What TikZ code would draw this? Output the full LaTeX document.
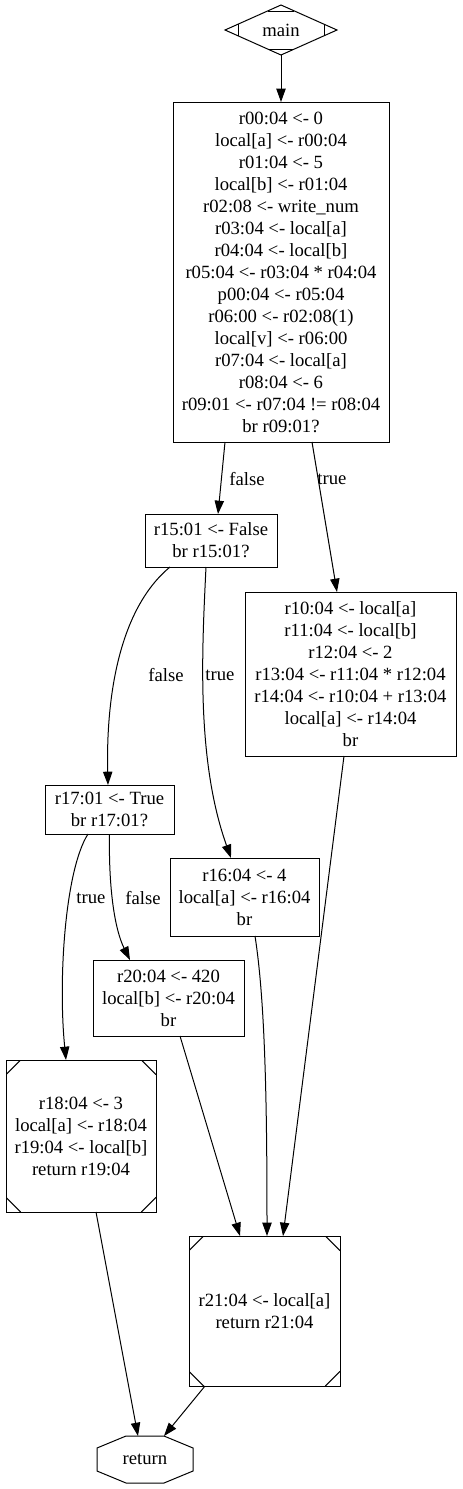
\documentclass[tikz,border=0pt]{standalone}
\usepackage{fontspec}
\setmainfont{Liberation Serif}
\usetikzlibrary{shapes.geometric,arrows.meta,calc}
\begin{document}
\begin{tikzpicture}[x=0.75pt,y=-0.75pt,
 every node/.style={font=\fontsize{14}{16.5}\selectfont, align=center, inner sep=0pt, outer sep=0pt},
 blk/.style={draw, line width=0.75pt, rectangle},
 msq/.style={blk, path picture={
   \draw[line width=0.75pt] ([yshift=-11pt]path picture bounding box.north west) -- ([xshift=11pt]path picture bounding box.north west);
   \draw[line width=0.75pt] ([yshift=-11pt]path picture bounding box.north east) -- ([xshift=-11pt]path picture bounding box.north east);
   \draw[line width=0.75pt] ([yshift=11pt]path picture bounding box.south west) -- ([xshift=11pt]path picture bounding box.south west);
   \draw[line width=0.75pt] ([yshift=11pt]path picture bounding box.south east) -- ([xshift=-11pt]path picture bounding box.south east);
 }},
 cnx/.style={line width=0.75pt, -{Triangle[length=10pt,width=7pt]}},
 thin/.style={line width=0.75pt}
]
\useasboundingbox (0,0) rectangle (462,1489);

% nodes
\node[draw, thin, diamond, aspect=2.24, minimum width=84pt, minimum height=37.5pt] (main) at (281,30) {main};
\draw[thin] ($(main.north)+(-13.4,6)$) -- ($(main.north)+(13.4,6)$);
\draw[thin] ($(main.south)+(-13.4,-6)$) -- ($(main.south)+(13.4,-6)$);
\draw[thin] ($(main.west)+(13,-5.8)$) -- ($(main.west)+(13,5.8)$);
\draw[thin] ($(main.east)+(-13,-5.8)$) -- ($(main.east)+(-13,5.8)$);

\node[blk, minimum width=162pt, minimum height=255pt] (mb) at (281,272) {r00:04 <- 0\\local[a] <- r00:04\\r01:04 <- 5\\local[b] <- r01:04\\r02:08 <- write\_num\\r03:04 <- local[a]\\r04:04 <- local[b]\\r05:04 <- r03:04 * r04:04\\p00:04 <- r05:04\\r06:00 <- r02:08(1)\\local[v] <- r06:00\\r07:04 <- local[a]\\r08:04 <- 6\\r09:01 <- r07:04 != r08:04\\br r09:01?};

\node[blk, minimum width=99pt, minimum height=39.75pt] (r15) at (211,540.5) {r15:01 <- False\\br r15:01?};

\node[blk, minimum width=158.25pt, minimum height=123pt] (r10) at (350.5,674) {r10:04 <- local[a]\\r11:04 <- local[b]\\r12:04 <- 2\\r13:04 <- r11:04 * r12:04\\r14:04 <- r10:04 + r13:04\\local[a] <- r14:04\\br};

\node[blk, minimum width=96.75pt, minimum height=36.75pt] (r17) at (109.5,809.5) {r17:01 <- True\\br r17:01?};

\node[blk, minimum width=111.75pt, minimum height=58.5pt] (r16) at (244.5,897) {r16:04 <- 4\\local[a] <- r16:04\\br};

\node[blk, minimum width=113.25pt, minimum height=57pt] (r20) at (168.5,998) {r20:04 <- 420\\local[b] <- r20:04\\br};

\node[msq, minimum width=112.5pt, minimum height=114pt] (r18) at (81,1136) {r18:04 <- 3\\local[a] <- r18:04\\r19:04 <- local[b]\\return r19:04};

\node[msq, minimum width=113.25pt, minimum height=112.5pt] (r21) at (264.5,1311) {r21:04 <- local[a]\\return r21:04};

\node[minimum width=72pt, minimum height=35.25pt] (ret) at (145,1459.5) {return};
\draw[thin] ($(ret.north west)+(29,0)$) -- ($(ret.north east)+(-29,0)$) -- ($(ret.north east)+(0,12)$) -- ($(ret.south east)+(0,-12)$) -- ($(ret.south east)+(-29,0)$) -- ($(ret.south west)+(29,0)$) -- ($(ret.south west)+(0,-12)$) -- ($(ret.north west)+(0,12)$) -- cycle;

% edges
\draw[cnx] (main.south) -- (mb.north);
\draw[cnx] ($(mb.south)+(-56,0)$) -- ($(r15.north)+(7,0)$) node at (247,479) {false};
\draw[cnx] ($(mb.south)+(31,0)$) -- ($(r10.north)+(-13.5,0)$) node at (332,479) {true};
\draw[cnx] ($(r15.south)+(-41,0)$) .. controls +(-52,43) and +(-2,-85) .. ($(r17.north)+(-1.5,0)$) node at (166,675) {false};
\draw[cnx] ($(r15.south)+(-5,0)$) .. controls +(-4,83) and +(-35,-98) .. ($(r16.north)+(-13.5,0)$) node at (220,675) {true};
\draw[cnx] ($(r17.south)+(-21.5,0)$) .. controls +(-23,36) and +(-8,-80) .. ($(r18.north)+(-15,0)$) node at (91,898) {true};
\draw[cnx] (r17.south) .. controls +(-1,56) and +(-15,-30) .. ($(r20.north)+(-38.5,0)$) node at (143,898) {false};
\draw[cnx] ($(r16.south)+(10.5,0)$) .. controls +(10,64) and +(0,-136) .. ($(r21.north)+(2.5,0)$);
\draw[cnx] ($(r10.south)+(-6.5,0)$) -- ($(r21.north)+(18.5,0)$);
\draw[cnx] ($(r20.south)+(11.5,0)$) -- ($(r21.north)+(-24.5,0)$);
\draw[cnx] ($(r18.south)+(15,0)$) -- ($(ret.north)+(-7,0)$);
\draw[cnx] ($(r21.south)+(-59.5,0)$) -- ($(ret.north)+(19,0)$);
\end{tikzpicture}
\end{document}
